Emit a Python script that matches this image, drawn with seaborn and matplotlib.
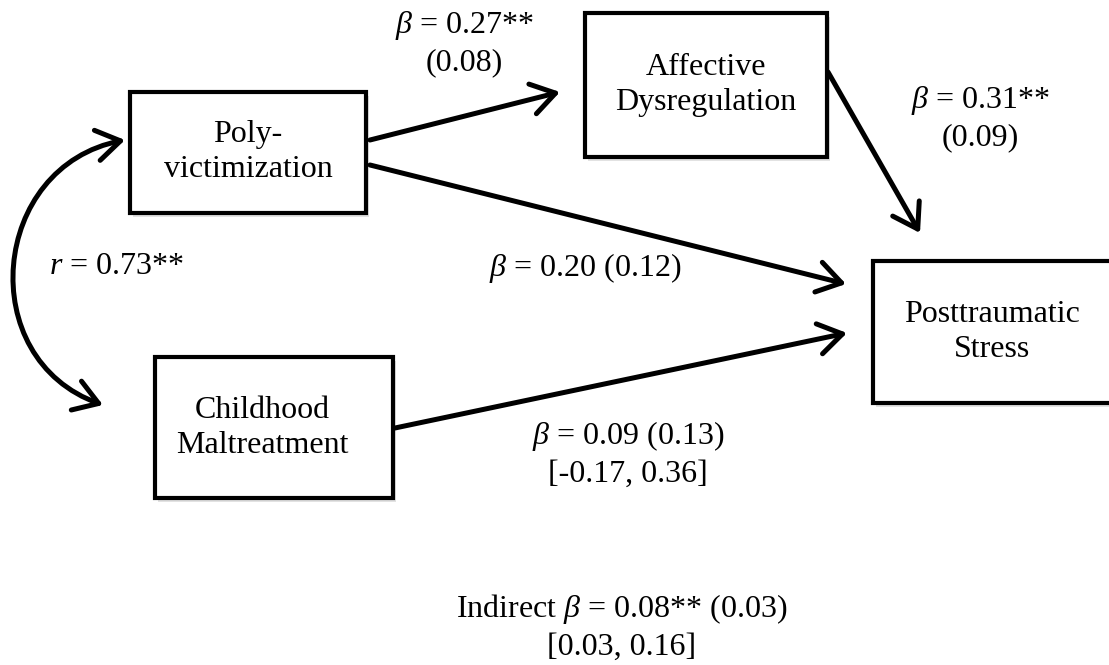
import matplotlib
matplotlib.use("Agg")
import matplotlib.pyplot as plt
from matplotlib.patches import Rectangle, FancyArrowPatch
from matplotlib.path import Path
import seaborn as sns

# ── 데이터 ─────────────────────────────────────────────
node_keys = ["poly", "affect", "child", "pts"]
node_labels = ["Poly-\nvictimization", "Affective\nDysregulation",
               "Childhood\nMaltreatment", "Posttraumatic\nStress"]

path_from = ["poly", "poly", "affect", "child"]
path_to = ["affect", "pts", "pts", "pts"]
path_labels = [r"$\beta$ = 0.27**" + "\n(0.08)",
               r"$\beta$ = 0.20 (0.12)",
               r"$\beta$ = 0.31**" + "\n(0.09)",
               r"$\beta$ = 0.09 (0.13)" + "\n[-0.17, 0.36]"]
corr_label = r"$r$ = 0.73**"
indirect_label = r"Indirect $\beta$ = 0.08** (0.03)" + "\n[0.03, 0.16]"

# ── 레이아웃 (픽셀 좌표, y 아래로) ─────────────────────
boxes = {"poly": (130, 92, 366, 213), "affect": (585, 13, 827, 157),
         "child": (155, 357, 393, 498), "pts": (873, 261, 1112, 403)}
box_text = {"poly": (248, 152), "affect": (706, 85),
            "child": (262, 428), "pts": (992, 332)}
ends = [((370, 140), (560, 92)), ((370, 165), (846, 284)),
        ((828, 72), (920, 233)), ((395, 428), (847, 333))]
label_pos = [(464, 43), (585, 268), (980, 118), (628, 454)]
corr_curve = [(125, 140), (-10, 166), (-27, 359), (103, 405)]
corr_pos = (116, 267)
indirect_pos = (622, 627)

# ── 그리기 ─────────────────────────────────────────────
sns.set_theme(style="white")
plt.rcParams["font.family"] = ["Liberation Serif", "DejaVu Serif"]
plt.rcParams["text.color"] = "black"
plt.rcParams["mathtext.fontset"] = "custom"
plt.rcParams["mathtext.rm"] = "Liberation Serif"
plt.rcParams["mathtext.it"] = "Liberation Serif:italic"

fig = plt.figure(figsize=(11.09, 6.65), dpi=100)
ax = fig.add_axes([0, 0, 1, 1])
ax.set_xlim(0, 1109)
ax.set_ylim(665, 0)
ax.axis("off")

FS = 23
LS = 1.3
for key, label in zip(node_keys, node_labels):
    x0, y0, x1, y1 = boxes[key]
    ax.add_patch(Rectangle((x0 + 3, y0 + 4), x1 - x0, y1 - y0, facecolor="#d0d0d0",
                           edgecolor="none", alpha=0.6, zorder=1))
    ax.add_patch(Rectangle((x0, y0), x1 - x0, y1 - y0, facecolor="white",
                           edgecolor="black", lw=3, zorder=2))
    tx, ty = box_text[key]
    ax.text(tx, ty, label, ha="center", va="center", fontsize=FS,
            linespacing=LS, color="black", zorder=3)

arrow_kw = dict(arrowstyle="->,head_length=0.85,head_width=0.55", mutation_scale=20,
                lw=3.6, color="black", shrinkA=0, shrinkB=0, zorder=4)
for (start, tip), txt, pos in zip(ends, path_labels, label_pos):
    ax.add_patch(FancyArrowPatch(start, tip, **arrow_kw))
    ax.text(pos[0], pos[1], txt, ha="center", va="center", fontsize=FS,
            linespacing=LS, color="black")

curve = Path(corr_curve, [Path.MOVETO, Path.CURVE4, Path.CURVE4, Path.CURVE4])
ax.add_patch(FancyArrowPatch(path=curve, **{**arrow_kw, "arrowstyle": "<->,head_length=0.85,head_width=0.55"}))
ax.text(corr_pos[0], corr_pos[1], corr_label, ha="center", va="center",
        fontsize=FS, color="black")
ax.text(indirect_pos[0], indirect_pos[1], indirect_label, ha="center", va="center",
        fontsize=FS, linespacing=LS, color="black")

fig.savefig("out.png", dpi=100)
